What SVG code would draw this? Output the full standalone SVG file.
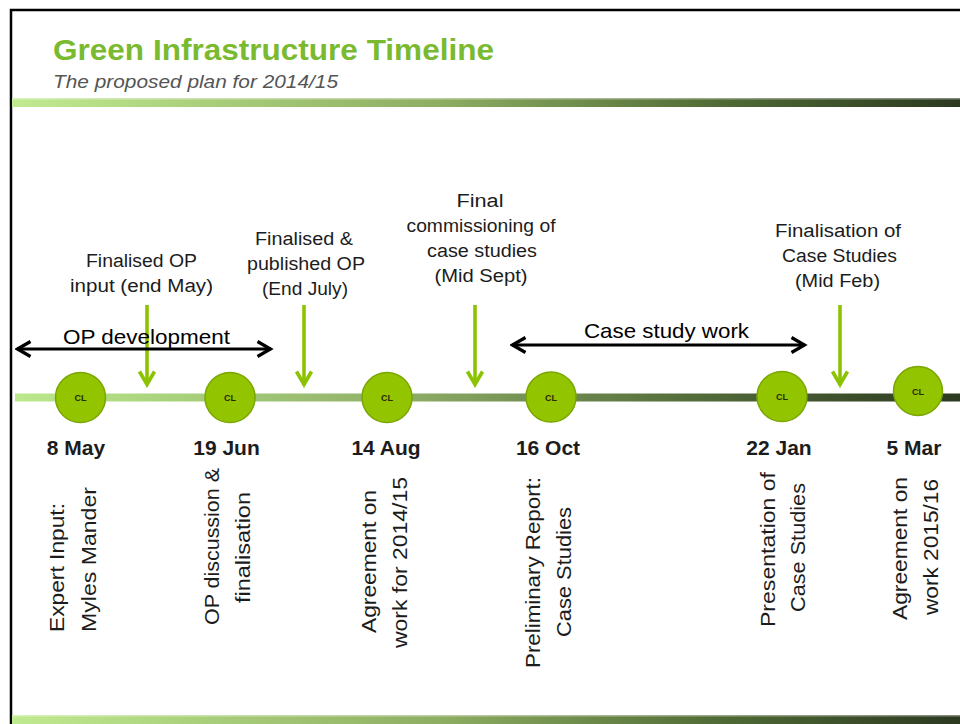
<svg xmlns="http://www.w3.org/2000/svg" width="960" height="724" viewBox="0 0 960 724">
<defs>
<linearGradient id="stripe" x1="0" y1="0" x2="1" y2="0">
<stop offset="0" stop-color="#c0ea90"/>
<stop offset="0.45" stop-color="#8eae62"/>
<stop offset="0.75" stop-color="#4f6a35"/>
<stop offset="1" stop-color="#2c3920"/>
</linearGradient>
<linearGradient id="tl" gradientUnits="userSpaceOnUse" x1="15" y1="0" x2="960" y2="0">
<stop offset="0" stop-color="#bce98c"/>
<stop offset="0.4" stop-color="#90b068"/>
<stop offset="0.7" stop-color="#566f3c"/>
<stop offset="1" stop-color="#2c3920"/>
</linearGradient>
<marker id="gh" viewBox="0 0 18 20" refX="15.5" refY="10" markerWidth="18" markerHeight="20" markerUnits="userSpaceOnUse" orient="auto-start-reverse">
<path d="M2 2.5 L15 10 L2 17.5" fill="none" stroke="#8cc300" stroke-width="3.6"/>
</marker>
<marker id="bh" viewBox="0 0 18 20" refX="15.5" refY="10" markerWidth="18" markerHeight="20" markerUnits="userSpaceOnUse" orient="auto-start-reverse">
<path d="M2 2.5 L15 10 L2 17.5" fill="none" stroke="#000" stroke-width="3.2"/>
</marker>
</defs>
<style>
.t{font-family:"Liberation Sans",Arial,sans-serif;fill:#1c1c1c}
.lab{font-size:18px;text-anchor:middle}
.date{font-size:21px;font-weight:bold;text-anchor:middle}
.vt{font-size:20px;text-anchor:middle}
.bar{font-size:21px;text-anchor:middle;fill:#000}
.cl{font-size:9px;font-weight:bold;text-anchor:middle;fill:#2a2a00}
.node circle{fill:#93c400;stroke:#7aa600;stroke-width:1.5}
.ga{stroke:#8cc300;stroke-width:3.6;fill:none}
.ba{stroke:#000;stroke-width:3.2;fill:none}
</style>
<rect width="960" height="724" fill="#fff"/>
<path d="M11 724 V10 H960" fill="none" stroke="#000" stroke-width="2.5"/>
<text x="53" y="60" class="t" font-size="30" font-weight="bold" style="fill:#7aba30" textLength="441" lengthAdjust="spacingAndGlyphs">Green Infrastructure Timeline</text>
<text x="53" y="88" class="t" font-size="18" font-style="italic" style="fill:#555" textLength="285" lengthAdjust="spacingAndGlyphs">The proposed plan for 2014/15</text>
<rect x="12" y="98" width="948" height="9" fill="url(#stripe)"/>
<rect x="12" y="98" width="948" height="1.5" fill="#fff" opacity="0.4"/>
<rect x="12" y="715" width="948" height="9" fill="url(#stripe)"/>
<rect x="12" y="715" width="948" height="1.5" fill="#fff" opacity="0.4"/>
<g id="timeline">
<rect x="15" y="393.5" width="945" height="8" fill="url(#tl)"/>
</g>
<g id="connectors">
<line class="ga" x1="147" y1="305" x2="147" y2="385" marker-end="url(#gh)"/>
<line class="ga" x1="304" y1="305" x2="304" y2="385" marker-end="url(#gh)"/>
<line class="ga" x1="475" y1="305" x2="475" y2="385" marker-end="url(#gh)"/>
<line class="ga" x1="840" y1="305" x2="840" y2="385" marker-end="url(#gh)"/>
<line class="ba" x1="17" y1="349" x2="271" y2="349" marker-start="url(#bh)" marker-end="url(#bh)"/>
<line class="ba" x1="512" y1="345" x2="805" y2="345" marker-start="url(#bh)" marker-end="url(#bh)"/>
</g>
<g id="bar-op"><text x="146.5" y="344" class="t bar" textLength="167" lengthAdjust="spacingAndGlyphs">OP development</text></g>
<g id="bar-cs"><text x="666.5" y="338" class="t bar" textLength="165" lengthAdjust="spacingAndGlyphs">Case study work</text></g>
<g id="label-may" class="t lab">
<text x="141.5" y="267" textLength="111" lengthAdjust="spacingAndGlyphs">Finalised OP</text>
<text x="141.5" y="292" textLength="143" lengthAdjust="spacingAndGlyphs">input (end May)</text>
</g>
<g id="label-july" class="t lab">
<text x="304" y="245" textLength="98" lengthAdjust="spacingAndGlyphs">Finalised &amp;</text>
<text x="306" y="270" textLength="118" lengthAdjust="spacingAndGlyphs">published OP</text>
<text x="305" y="295" textLength="86" lengthAdjust="spacingAndGlyphs">(End July)</text>
</g>
<g id="label-sept" class="t lab">
<text x="480" y="207" textLength="47" lengthAdjust="spacingAndGlyphs">Final</text>
<text x="481" y="232" textLength="149" lengthAdjust="spacingAndGlyphs">commissioning of</text>
<text x="482" y="257" textLength="110" lengthAdjust="spacingAndGlyphs">case studies</text>
<text x="481" y="282" textLength="93" lengthAdjust="spacingAndGlyphs">(Mid Sept)</text>
</g>
<g id="label-feb" class="t lab">
<text x="838" y="237" textLength="126" lengthAdjust="spacingAndGlyphs">Finalisation of</text>
<text x="839.5" y="262" textLength="115" lengthAdjust="spacingAndGlyphs">Case Studies</text>
<text x="837.5" y="287" textLength="85" lengthAdjust="spacingAndGlyphs">(Mid Feb)</text>
</g>
<g id="node-may" class="node">
<circle cx="80.5" cy="397.5" r="25"/>
<text x="80.5" y="401" class="t cl">CL</text>
<text x="76" y="455" class="t date">8 May</text>
<text transform="translate(64 567.5) rotate(-90)" class="t vt" textLength="129" lengthAdjust="spacingAndGlyphs">Expert Input:</text>
<text transform="translate(96 559.5) rotate(-90)" class="t vt" textLength="145" lengthAdjust="spacingAndGlyphs">Myles Mander</text>
</g>
<g id="node-jun" class="node">
<circle cx="230" cy="397.5" r="25"/>
<text x="230" y="401" class="t cl">CL</text>
<text x="226.5" y="455" class="t date">19 Jun</text>
<text transform="translate(219 546.5) rotate(-90)" class="t vt" textLength="157" lengthAdjust="spacingAndGlyphs">OP discussion &amp;</text>
<text transform="translate(250 547.5) rotate(-90)" class="t vt" textLength="111" lengthAdjust="spacingAndGlyphs">finalisation</text>
</g>
<g id="node-aug" class="node">
<circle cx="387" cy="397.5" r="25"/>
<text x="387" y="401" class="t cl">CL</text>
<text x="386" y="455" class="t date">14 Aug</text>
<text transform="translate(376 561.5) rotate(-90)" class="t vt" textLength="143" lengthAdjust="spacingAndGlyphs">Agreement on</text>
<text transform="translate(407 562.5) rotate(-90)" class="t vt" textLength="171" lengthAdjust="spacingAndGlyphs">work for 2014/15</text>
</g>
<g id="node-oct" class="node">
<circle cx="551" cy="397" r="25"/>
<text x="551" y="400.5" class="t cl">CL</text>
<text x="548" y="455" class="t date">16 Oct</text>
<text transform="translate(540 572.5) rotate(-90)" class="t vt" textLength="191" lengthAdjust="spacingAndGlyphs">Preliminary Report:</text>
<text transform="translate(571 572) rotate(-90)" class="t vt" textLength="130" lengthAdjust="spacingAndGlyphs">Case Studies</text>
</g>
<g id="node-jan" class="node">
<circle cx="782" cy="396.5" r="25"/>
<text x="782" y="400" class="t cl">CL</text>
<text x="779" y="455" class="t date">22 Jan</text>
<text transform="translate(775 549.5) rotate(-90)" class="t vt" textLength="155" lengthAdjust="spacingAndGlyphs">Presentation of</text>
<text transform="translate(805 547.5) rotate(-90)" class="t vt" textLength="129" lengthAdjust="spacingAndGlyphs">Case Studies</text>
</g>
<g id="node-mar" class="node">
<circle cx="918" cy="391" r="24.5"/>
<text x="918" y="394.5" class="t cl">CL</text>
<text x="914" y="455" class="t date">5 Mar</text>
<text transform="translate(907 548.5) rotate(-90)" class="t vt" textLength="143" lengthAdjust="spacingAndGlyphs">Agreement on</text>
<text transform="translate(938 547) rotate(-90)" class="t vt" textLength="136" lengthAdjust="spacingAndGlyphs">work 2015/16</text>
</g>
</svg>
